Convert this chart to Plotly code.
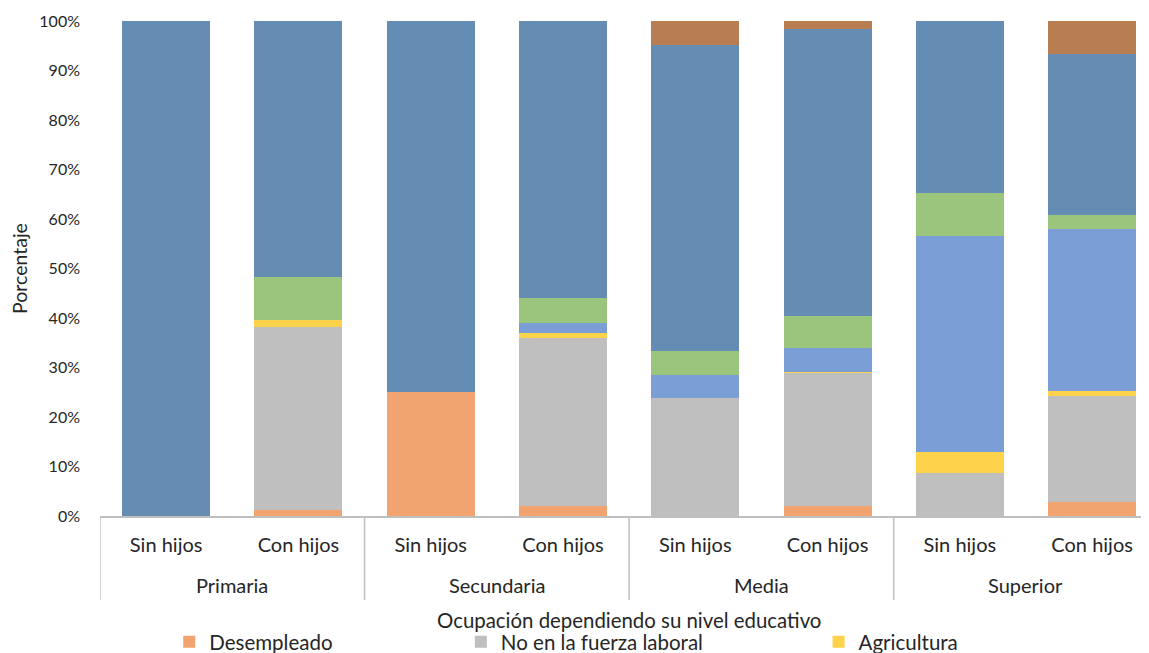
import plotly.graph_objects as go

niveles = ["Primaria", "Secundaria", "Media", "Superior"]
hijos = ["Sin hijos", "Con hijos"]
categorias = [f"{n} · {h}" for n in niveles for h in hijos]
etiquetas = [h for n in niveles for h in hijos]

desempleado = [0, 1.2, 25.0, 2.0, 0, 2.1, 0, 2.8]
no_fuerza = [0, 37.0, 0, 34.0, 23.9, 26.8, 8.7, 21.4]
agricultura = [0, 1.3, 0, 0.9, 0, 0.2, 4.3, 1.1]
serie4 = [0, 0, 0, 2.0, 4.6, 4.8, 43.5, 32.7]
serie5 = [0, 8.7, 0, 5.2, 4.8, 6.6, 8.7, 2.9]
serie6 = [100, 51.8, 75.0, 55.9, 61.9, 57.9, 34.8, 32.5]
serie7 = [0, 0, 0, 0, 4.8, 1.6, 0, 6.6]

series = [
    ("Desempleado", desempleado, "#F1A46F", "legend"),
    ("No en la fuerza laboral", no_fuerza, "#BFBFBF", "legend2"),
    ("Agricultura", agricultura, "#FED24A", "legend3"),
    ("Industria", serie4, "#7C9ED6", None),
    ("Comercio", serie5, "#9BC57D", None),
    ("Servicios", serie6, "#658CB2", None),
    ("Otros", serie7, "#B87E52", None),
]

TXT = "#262626"
GRID = "#BFBFBF"
font = "Lato"

fig = go.Figure()
for name, vals, color, leg in series:
    fig.add_trace(go.Bar(
        x=categorias, y=vals, name=name,
        marker=dict(color=color, line=dict(width=0)),
        showlegend=leg is not None,
        legend=leg if leg else "legend",
    ))

legend_common = dict(orientation="h", yref="container", y=0.017, yanchor="middle",
                     font=dict(size=20.5, color=TXT), bgcolor="rgba(0,0,0,0)")
fig.update_layout(
    width=1141, height=645,
    barmode="stack", bargap=0.335,
    plot_bgcolor="white", paper_bgcolor="white",
    margin=dict(l=92, r=0, t=13, b=137),
    font=dict(family=font, size=17, color=TXT),
    legend=dict(x=0.066, **legend_common),
    legend2=dict(x=0.344, **legend_common),
    legend3=dict(x=0.685, **legend_common),
)
fig.update_xaxes(
    type="category", categoryorder="array", categoryarray=categorias,
    tickmode="array", tickvals=categorias, ticktext=etiquetas,
    range=[-0.5, 7.43],
    showline=True, linecolor=GRID, linewidth=1.5,
    ticks="", tickfont=dict(size=20, color=TXT), ticklabelstandoff=10,
)
fig.update_yaxes(
    range=[0, 100], dtick=10, ticksuffix="%", showgrid=False, zeroline=False,
    showline=False, tickfont=dict(size=16, color=TXT), ticklabelstandoff=19,
    title=dict(text="Porcentaje", font=dict(size=19.5, color=TXT), standoff=14),
)

# group dividers and group labels
for i in range(len(niveles) + 1):
    fig.add_shape(type="line", xref="x", yref="paper",
                  x0=2 * i - 0.5, x1=2 * i - 0.5, y0=0, y1=-0.1697,
                  line=dict(color=GRID, width=1.5))
for i, n in enumerate(niveles):
    fig.add_annotation(text=n, xref="x", yref="paper", x=2 * i + 0.5, y=-0.1394,
                       showarrow=False, yanchor="middle",
                       font=dict(size=20, color=TXT))

fig.add_annotation(
    text="Ocupación dependiendo su nivel educativo", xref="x", yref="paper",
    x=3.5, y=-0.21, showarrow=False, yanchor="middle",
    font=dict(size=20.4, color=TXT),
)
fig.write_html("out.html")
